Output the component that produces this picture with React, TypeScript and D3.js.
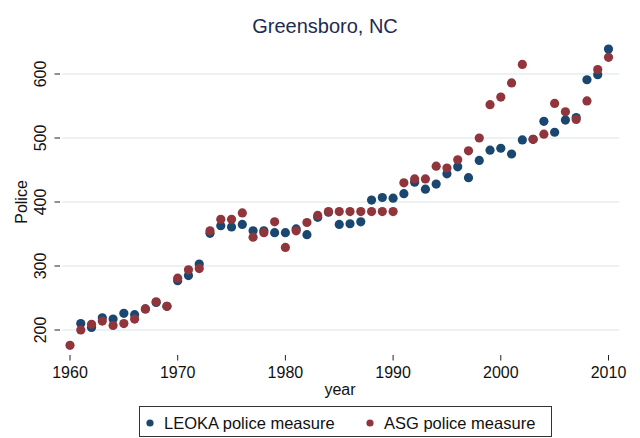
import React from "react";
import * as d3 from "d3";

const years: number[] = d3.range(1960, 2011);
const leoka: (number | null)[] = [
  null, 210, 204, 219, 217, 226, 224, 233, 243, 237,
  277, 285, 303, 351, 363, 361, 365, 355, 355, 352,
  352, 358, 349, 376, 384, 365, 366, 369, 403, 407,
  406, 413, 431, 420, 428, 444, 455, 438, 465, 481,
  484, 475, 497, 498, 526, 509, 528, 532, 591, 599,
  639,
];
const asg: (number | null)[] = [
  176, 200, 209, 214, 207, 210, 217, 233, 244, 237,
  281, 294, 296, 355, 373, 373, 383, 345, 352, 369,
  329, 355, 368, 379, 385, 385, 385, 385, 385, 385,
  385, 430, 436, 436, 456, 453, 466, 480, 500, 552,
  564, 586, 615, 498, 506, 554, 541, 529, 558, 607,
  626,
];
const xTicks: number[] = [1960, 1970, 1980, 1990, 2000, 2010];
const yTicks: number[] = [200, 300, 400, 500, 600];
const seriesNames: string[] = ["LEOKA police measure", "ASG police measure"];
const colors: string[] = ["#1a476f", "#90353b"];

const W = 640;
const H = 438;
const FONT = "'Liberation Sans', Arial, Helvetica, sans-serif";

export default function App() {
  const x = d3.scaleLinear().domain([1960, 2010]).range([70, 608.5]);
  const y = d3.scaleLinear().domain([200, 600]).range([330, 74]);
  const plotLeft = 62;
  const plotRight = 619;
  const series = [leoka, asg];

  return (
    <svg
      width={W}
      height={H}
      style={{ position: "absolute", left: 0, top: 0, background: "#fff" }}
      fontFamily={FONT}
    >
      <rect x={0} y={0} width={W} height={H} fill="#fff" />
      <text x={325} y={33} textAnchor="middle" fontSize={20} fill="#1e2b4f">
        Greensboro, NC
      </text>
      {yTicks.map((t) => (
        <g key={"y" + t}>
          <line x1={plotLeft} x2={plotRight} y1={y(t)} y2={y(t)} stroke="#e6eef0" strokeWidth={1.5} />
          <line x1={54.5} x2={60} y1={y(t)} y2={y(t)} stroke="#222" strokeWidth={1} />
          <text
            transform={`translate(45.5,${y(t)}) rotate(-90)`}
            textAnchor="middle"
            fontSize={16}
            fill="#111"
          >
            {t}
          </text>
        </g>
      ))}
      <text transform={`translate(27,${y(400)}) rotate(-90)`} textAnchor="middle" fontSize={16} fill="#111">
        Police
      </text>
      {xTicks.map((t) => (
        <g key={"x" + t}>
          <line x1={x(t)} x2={x(t)} y1={355} y2={360.5} stroke="#222" strokeWidth={1} />
          <text x={x(t)} y={377.5} textAnchor="middle" fontSize={16} fill="#111">
            {t}
          </text>
        </g>
      ))}
      <text x={340} y={394.5} textAnchor="middle" fontSize={16} fill="#111">
        year
      </text>
      {series.map((s, si) => (
        <g key={"s" + si}>
          {years.map((yr, i) =>
            s[i] == null ? null : (
              <circle key={yr} cx={x(yr)} cy={y(s[i] as number)} r={4.6} fill={colors[si]} />
            )
          )}
        </g>
      ))}
      <rect x={139.5} y={406.5} width={412} height={30} fill="#fff" stroke="#333" strokeWidth={1} />
      <circle cx={150} cy={423} r={3.6} fill={colors[0]} />
      <text x={164} y={428.5} fontSize={16.5} fill="#111">
        {seriesNames[0]}
      </text>
      <circle cx={370} cy={423} r={3.6} fill={colors[1]} />
      <text x={384} y={428.5} fontSize={16.5} fill="#111">
        {seriesNames[1]}
      </text>
    </svg>
  );
}
